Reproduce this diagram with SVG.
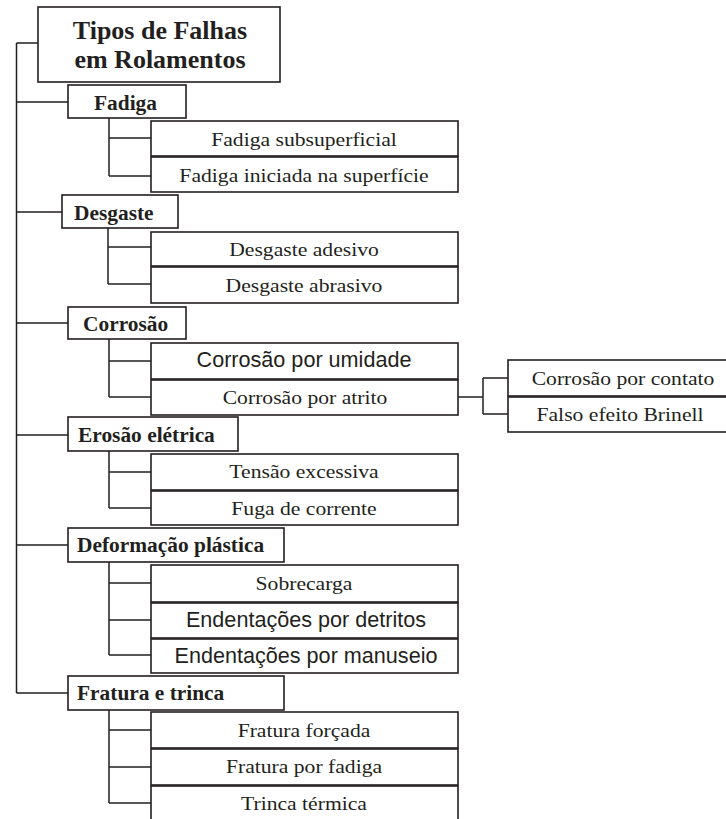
<svg xmlns="http://www.w3.org/2000/svg" width="726" height="819" viewBox="0 0 726 819">
<style>
.box{fill:#fff;stroke:#231f20;stroke-width:1.6}
.ln{fill:none;stroke:#231f20;stroke-width:1.5}
.t{font-family:"Liberation Serif","Times New Roman",serif;font-size:18.5px;fill:#231f20;text-anchor:middle}
.s{font-family:"Liberation Sans",Arial,sans-serif;font-size:21.6px;fill:#231f20;text-anchor:middle}
.h{font-family:"Liberation Serif","Times New Roman",serif;font-weight:bold;font-size:20px;fill:#231f20}
.ti{font-family:"Liberation Serif","Times New Roman",serif;font-weight:bold;font-size:26px;fill:#231f20;text-anchor:middle}
</style>
<rect width="726" height="819" fill="#fff"/>
<g id="connectors">
<path class="ln" d="M16.5,43 V693 M16.5,43 H38 M16.5,102 H68 M16.5,212 H62 M16.5,323 H68 M16.5,435 H68 M16.5,545 H68 M16.5,693 H68"/>
<path class="ln" d="M109,118 V176 M109,138 H151 M109,176 H151"/>
<path class="ln" d="M108,228 V284 M108,247 H151 M108,284 H151"/>
<path class="ln" d="M109,339 V397 M109,361 H151 M109,397 H151"/>
<path class="ln" d="M109,451 V508 M109,472 H151 M109,508 H151"/>
<path class="ln" d="M109,562 V655 M109,583 H151 M109,620 H151 M109,655 H151"/>
<path class="ln" d="M109,710 V803 M109,730 H151 M109,767 H151 M109,803 H151"/>
<path class="ln" d="M458,397 H483 M483,378 V414 M483,378 H508 M483,414 H508"/>
</g>
<g id="title"><rect class="box" x="38" y="7" width="242" height="75"/><text class="ti" x="160" y="39">Tipos de Falhas</text><text class="ti" x="160" y="68">em Rolamentos</text></g>
<g id="fadiga"><rect class="box" x="68" y="85" width="118" height="33"/><text class="h" transform="translate(94 110) scale(1.07 1)">Fadiga</text></g>
<g id="fadiga-sub"><rect class="box" x="151" y="121" width="307" height="35"/><text class="t" transform="translate(304 146) scale(1.17 1)">Fadiga subsuperficial</text></g>
<g id="fadiga-sup"><rect class="box" x="151" y="157" width="307" height="35"/><text class="t" transform="translate(304 182) scale(1.17 1)">Fadiga iniciada na superfície</text></g>
<g id="desgaste"><rect class="box" x="62" y="195" width="116" height="33"/><text class="h" transform="translate(74 220) scale(1.07 1)">Desgaste</text></g>
<g id="desgaste-ades"><rect class="box" x="151" y="232" width="307" height="34"/><text class="t" transform="translate(304 256) scale(1.17 1)">Desgaste adesivo</text></g>
<g id="desgaste-abr"><rect class="box" x="151" y="267" width="307" height="36"/><text class="t" transform="translate(304 292) scale(1.17 1)">Desgaste abrasivo</text></g>
<g id="corrosao"><rect class="box" x="68" y="307" width="118" height="32"/><text class="h" transform="translate(83 331) scale(1.07 1)">Corrosão</text></g>
<g id="corrosao-umid"><rect class="box" x="151" y="343" width="307" height="36"/><text class="s" x="304" y="367">Corrosão por umidade</text></g>
<g id="corrosao-atr"><rect class="box" x="151" y="380" width="307" height="35"/><text class="t" transform="translate(305 404) scale(1.17 1)">Corrosão por atrito</text></g>
<g id="corrosao-cont"><rect class="box" x="508" y="360" width="222" height="36"/><text class="t" transform="translate(623 385) scale(1.17 1)">Corrosão por contato</text></g>
<g id="falso-brinell"><rect class="box" x="508" y="397" width="222" height="35"/><text class="t" transform="translate(620 421) scale(1.17 1)">Falso efeito Brinell</text></g>
<g id="erosao"><rect class="box" x="68" y="417" width="170" height="34"/><text class="h" transform="translate(78 442) scale(1.07 1)">Erosão elétrica</text></g>
<g id="erosao-tensao"><rect class="box" x="151" y="454" width="307" height="36"/><text class="t" transform="translate(304 478) scale(1.17 1)">Tensão excessiva</text></g>
<g id="erosao-fuga"><rect class="box" x="151" y="491" width="307" height="34"/><text class="t" transform="translate(304 515) scale(1.17 1)">Fuga de corrente</text></g>
<g id="deformacao"><rect class="box" x="68" y="528" width="216" height="34"/><text class="h" transform="translate(77 552) scale(1.07 1)">Deformação plástica</text></g>
<g id="deform-sobre"><rect class="box" x="151" y="565" width="307" height="37"/><text class="t" transform="translate(304 590) scale(1.17 1)">Sobrecarga</text></g>
<g id="deform-detr"><rect class="box" x="151" y="603" width="307" height="35"/><text class="s" x="306" y="627">Endentações por detritos</text></g>
<g id="deform-manu"><rect class="box" x="151" y="639" width="307" height="34"/><text class="s" x="306" y="663">Endentações por manuseio</text></g>
<g id="fratura"><rect class="box" x="68" y="676" width="216" height="34"/><text class="h" transform="translate(77 700) scale(1.07 1)">Fratura e trinca</text></g>
<g id="fratura-forc"><rect class="box" x="151" y="712" width="307" height="36"/><text class="t" transform="translate(304 737) scale(1.17 1)">Fratura forçada</text></g>
<g id="fratura-fad"><rect class="box" x="151" y="749" width="307" height="36"/><text class="t" transform="translate(304 773) scale(1.17 1)">Fratura por fadiga</text></g>
<g id="trinca-term"><rect class="box" x="151" y="786" width="307" height="40"/><text class="t" transform="translate(304 810) scale(1.17 1)">Trinca térmica</text></g>
</svg>
